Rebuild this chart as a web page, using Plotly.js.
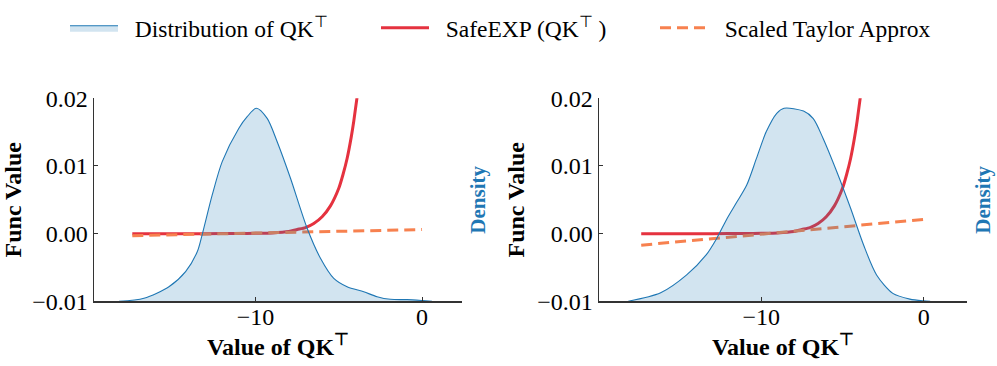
<!DOCTYPE html>
<html>
<head>
<meta charset="utf-8">
<script src="https://cdn.plot.ly/plotly-3.0.1.min.js"></script>
<style>
  html, body { margin: 0; padding: 0; background: #fff; }
  #chart { width: 997px; height: 366px; }
</style>
</head>
<body>
<div id="chart"></div>
<script>
// values

// left panel
const leftDensityX = [-18.2, -16.7, -15.2, -14.2, -13.5, -13.2, -12.6, -12.0, -11.0, -10.5, -9.95, -9.3, -8.7, -7.9, -6.9, -6.1, -5.3, -4.5, -3.5, -2.7, -1.9, -0.9, 0.05, 0.6];
const leftDensityY = [0.0, 0.0028, 0.0132, 0.0269, 0.0449, 0.0607, 0.0964, 0.1266, 0.1568, 0.1673, 0.175, 0.1658, 0.1446, 0.1115, 0.0662, 0.039, 0.0208, 0.0132, 0.0086, 0.0042, 0.0018, 0.0015, 0.0006, 0.0];
const leftSafeX = [-17.4, -15, -13, -11, -10, -9, -8, -7.5, -7, -6.5, -6, -5.5, -5, -4.75, -4.5, -4.25, -4.1, -3.9];
const leftSafeY = [0.0, 0.0, 0.0, 0.00002, 0.00005, 0.0001, 0.0003, 0.0006, 0.0009, 0.0015, 0.0025, 0.0041, 0.0067, 0.0087, 0.0111, 0.0143, 0.0166, 0.0202];
const leftTaylorX = [-17.4, 0];
const leftTaylorY = [-0.0003, 0.0006];

// right panel
const rightDensityX = [-18.2, -16.2, -14.6, -13.4, -12.75, -12.1, -11.5, -10.9, -10.3, -9.7, -9.05, -8.6, -7.4, -6.8, -6.2, -5.35, -4.5, -3.7, -2.9, -1.9, -0.85, 0.0, 0.4];
const rightDensityY = [0.0, 0.0077, 0.0239, 0.042, 0.057, 0.0753, 0.0902, 0.1054, 0.1295, 0.1536, 0.1704, 0.175, 0.1724, 0.1656, 0.1478, 0.1174, 0.0843, 0.051, 0.0239, 0.0072, 0.002, 0.0004, 0.0];
const rightSafeX = [-17.4, -15, -13, -11, -10, -9, -8, -7.5, -7, -6.5, -6, -5.5, -5, -4.75, -4.5, -4.25, -4.1, -3.9];
const rightSafeY = [0.0, 0.0, 0.0, 0.00002, 0.00005, 0.0001, 0.0003, 0.0006, 0.0009, 0.0015, 0.0025, 0.0041, 0.0067, 0.0087, 0.0111, 0.0143, 0.0166, 0.0202];
const rightTaylorX = [-17.4, 0];
const rightTaylorY = [-0.0017, 0.0021];

const funcTicks = [-0.01, 0, 0.01, 0.02];
const xTicks = [-10, 0];

// two no-break spaces give the gap between legend symbol and text
const seriesNames = ['\u00a0\u00a0Distribution of QK<sup>⊤</sup>', '\u00a0\u00a0SafeEXP (QK<sup>⊤</sup>\u00a0)', '\u00a0\u00a0Scaled Taylor Approx'];

const FONT = '"Liberation Serif", "Times New Roman", serif';
const BLUE = '#1f77b4';
const RED = '#e5323f';
const ORANGE = '#f7814f';

function panel(dx, dy, sx, sy, tx, ty, xa, ya, ya2, first) {
    return [
        {
            x: dx, y: dy, xaxis: xa, yaxis: ya2,
            type: 'scatter', mode: 'lines',
            line: { color: BLUE, width: 1.1, shape: 'spline', smoothing: 0.8 },
            fill: 'toself', fillcolor: 'rgba(31,119,180,0.2)',
            name: seriesNames[0], legend: 'legend', showlegend: first
        },
        {
            x: sx, y: sy, xaxis: xa, yaxis: ya,
            type: 'scatter', mode: 'lines',
            line: { color: RED, width: 3, shape: 'spline', smoothing: 0.6 },
            name: seriesNames[1], legend: 'legend2', showlegend: first
        },
        {
            x: tx, y: ty, xaxis: xa, yaxis: ya,
            type: 'scatter', mode: 'lines',
            line: { color: ORANGE, width: 3, dash: '11px,6px' },
            name: seriesNames[2], legend: 'legend3', showlegend: first
        }
    ];
}

const traces = [
    ...panel(leftDensityX, leftDensityY, leftSafeX, leftSafeY, leftTaylorX, leftTaylorY, 'x', 'y', 'y2', true),
    ...panel(rightDensityX, rightDensityY, rightSafeX, rightSafeY, rightTaylorX, rightTaylorY, 'x2', 'y3', 'y4', false)
];

const yBottom = (366 - 301.3) / 366;
const yTop = (366 - 98.3) / 366;

function xAxis(domain, range, anchor) {
    return {
        domain: domain, range: range, anchor: anchor,
        tickvals: xTicks, tickformat: 'd',
        ticks: 'inside', ticklen: 4, tickwidth: 1, tickcolor: '#333',
        ticklabelstandoff: -7,
        showline: true, linecolor: '#333', linewidth: 1.5,
        showgrid: false, zeroline: false,
        tickfont: { family: FONT, size: 24, color: '#000' },
        title: { text: 'Value of QK<sup>⊤</sup>', standoff: 0, font: { family: FONT, size: 24, color: '#000', weight: 'bold' } }
    };
}

function funcAxis(anchor) {
    return {
        domain: [yBottom, yTop], range: [-0.01, 0.02], anchor: anchor,
        tickvals: funcTicks, tickformat: '.2f',
        ticks: 'inside', ticklen: 4, tickwidth: 1, tickcolor: '#333',
        showline: true, linecolor: '#333', linewidth: 1.5,
        showgrid: false, zeroline: false,
        tickfont: { family: FONT, size: 24, color: '#000' },
        title: { text: 'Func Value', standoff: 6, font: { family: FONT, size: 24, color: '#000', weight: 'bold' } }
    };
}

function densityAxis(overlay, anchor) {
    return {
        overlaying: overlay, anchor: anchor, side: 'right',
        range: [0, 0.184],
        showline: false, showgrid: false, zeroline: false,
        showticklabels: false, ticks: '',
        title: { text: 'Density', standoff: 8, font: { family: FONT, size: 21, color: BLUE, weight: 'bold' } }
    };
}

function legendAt(px) {
    return {
        x: px / 997, xanchor: 'left', y: (366 - 28) / 366, yanchor: 'middle',
        orientation: 'h', bgcolor: 'rgba(0,0,0,0)', borderwidth: 0,
        itemwidth: 48,
        font: { family: FONT, size: 23.5, color: '#000' }
    };
}

const layout = {
    width: 997, height: 366,
    margin: { t: 0, r: 0, b: 0, l: 0 },
    paper_bgcolor: '#ffffff', plot_bgcolor: 'rgba(0,0,0,0)',
    font: { family: FONT },
    showlegend: true,
    legend: legendAt(65),
    legend2: legendAt(376),
    legend3: legendAt(655),
    xaxis: xAxis([94 / 997, 462 / 997], [-19.7, 2.4], 'y'),
    yaxis: funcAxis('x'),
    yaxis2: densityAxis('y', 'x'),
    xaxis2: xAxis([599 / 997, 967 / 997], [-20, 2.67], 'y3'),
    yaxis3: funcAxis('x2'),
    yaxis4: densityAxis('y3', 'x2')
};

Plotly.newPlot('chart', traces, layout, { staticPlot: true });
</script>
</body>
</html>
